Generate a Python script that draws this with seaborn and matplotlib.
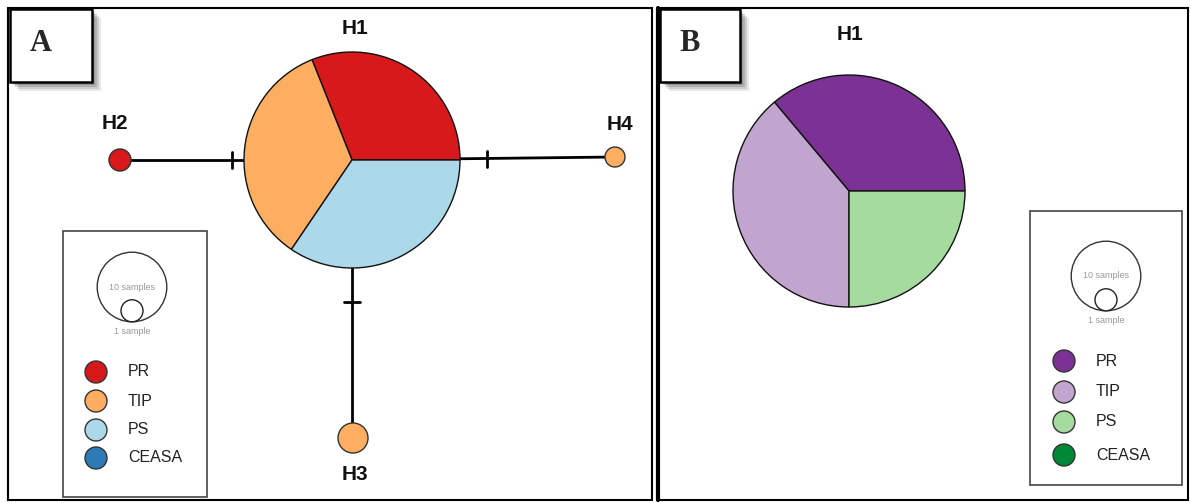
import numpy as np
import matplotlib
matplotlib.use("Agg")
import matplotlib.pyplot as plt
from matplotlib.patches import Wedge, Circle, Rectangle
import seaborn as sns

# populations and colours
populations = ["PR", "TIP", "PS", "CEASA"]
colors_a = ["#D7191C", "#FDAE61", "#ABD9E9", "#2C7BB6"]
colors_b = ["#7B3294", "#C2A5CF", "#A6DBA0", "#008837"]

# H1 composition (samples per population)
h1_counts_a = [9, 10, 10]
h1_counts_b = [13, 14, 9]

# minor haplotypes of panel A and their population
minor_names = ["H2", "H3", "H4"]
minor_pops = ["PR", "TIP", "TIP"]

sns.set_theme(style="white")
plt.rcParams["font.family"] = ["Liberation Sans", "DejaVu Sans"]

W, H = 1191, 503
fig = plt.figure(figsize=(W / 100, H / 100), dpi=100)
ax = fig.add_axes([0, 0, 1, 1])
ax.set_xlim(0, W)
ax.set_ylim(0, H)
ax.set_aspect("equal")
ax.axis("off")


def pie(cx, cy, r, counts, cols):
    fr = np.cumsum([0] + list(counts)) / sum(counts) * 360
    for i in range(len(counts)):
        ax.add_patch(Wedge((cx, cy), r, fr[i], fr[i + 1], facecolor=cols[i],
                           edgecolor="#111111", lw=1.0, zorder=4))


def node(cx, cy, r, col):
    ax.add_patch(Circle((cx, cy), r, facecolor=col, edgecolor="#333333",
                        lw=1.0, zorder=4))


def label_box(x0, y0, x1, y1, letter):
    # soft drop shadow, bottom-right
    for k, a in zip([9, 7, 5, 3], [0.12, 0.16, 0.2, 0.25]):
        ax.add_patch(Rectangle((x0 + k, y0 - k), x1 - x0, y1 - y0,
                               facecolor="#444444", edgecolor="none",
                               alpha=a, zorder=6))
    ax.add_patch(Rectangle((x0, y0), x1 - x0, y1 - y0, facecolor="white",
                           edgecolor="black", lw=1.8, zorder=7))
    ax.text((x0 + x1) / 2 - 10, (y0 + y1) / 2 + 2, letter, fontsize=22,
            fontweight="bold", family=["Liberation Serif", "DejaVu Serif"],
            ha="center", va="center", zorder=8)


def legend(x0, y0, x1, y1, cx, big_y, dot_x, dot_ys, cols):
    ax.add_patch(Rectangle((x0, y0), x1 - x0, y1 - y0, facecolor="white",
                           edgecolor="#444444", lw=1.2, zorder=3))
    r1 = 11
    r10 = r1 * np.sqrt(10)
    ax.add_patch(Circle((cx, big_y), r10, facecolor="none",
                        edgecolor="#333333", lw=1.0, zorder=4))
    ax.add_patch(Circle((cx, big_y - r10 + r1), r1, facecolor="white",
                        edgecolor="#222222", lw=1.0, zorder=4))
    ax.text(cx, big_y, "10 samples", fontsize=6.5, color="#999999",
            ha="center", va="center", zorder=5)
    ax.text(cx, big_y - r10 - 10, "1 sample", fontsize=6.5, color="#999999",
            ha="center", va="center", zorder=5)
    for y, c, p in zip(dot_ys, cols, populations):
        node(dot_x, y, 11, c)
        ax.text(dot_x + 32, y, p, fontsize=11.5, color="#222222",
                ha="left", va="center", zorder=5)


hlab = dict(fontsize=15, fontweight="bold", color="#111111",
            family=["Liberation Sans Narrow", "Liberation Sans", "DejaVu Sans"],
            ha="center", va="center", zorder=5)
col_a = dict(zip(populations, colors_a))

# ---- panel A ----
ax.add_patch(Rectangle((8, 3), 644, 492, facecolor="none",
                       edgecolor="black", lw=1.5, zorder=2))
h1x, h1y, h1r = 352, 343, 108
minor_xy = {"H2": (120, 343, 11), "H3": (353, 65, 15), "H4": (615, 346, 10)}

# edges with one mutation tick each
ax.plot([120, h1x], [343, 343], color="black", lw=2, zorder=3)
ax.plot([232, 232], [335, 351], color="black", lw=2, zorder=3)
ax.plot([h1x, 615], [343, 346], color="black", lw=2, zorder=3)
ax.plot([487, 487], [336, 352], color="black", lw=2, zorder=3)
ax.plot([h1x, h1x], [h1y, 65], color="black", lw=2, zorder=3)
ax.plot([344, 360], [201, 201], color="black", lw=2, zorder=3)

pie(h1x, h1y, h1r, h1_counts_a, colors_a)
for n, p in zip(minor_names, minor_pops):
    x, y, r = minor_xy[n]
    node(x, y, r, col_a[p])

ax.text(355, 475, "H1", **hlab)
ax.text(115, 380, "H2", **hlab)
ax.text(355, 28, "H3", **hlab)
ax.text(620, 379, "H4", **hlab)

legend(63, 6, 207, 272, 132, 216, 96, [131, 102, 73, 45], colors_a)
label_box(10, 421, 92, 494, "A")

# ---- panel B ----
ax.add_patch(Rectangle((658, 3), 530, 492, facecolor="none",
                       edgecolor="black", lw=1.5, zorder=2))
ax.plot([658, 658], [3, 495], color="black", lw=3, zorder=2)
pie(849, 312, 116, h1_counts_b, colors_b)
ax.text(850, 469, "H1", **hlab)
legend(1030, 18, 1182, 292, 1106, 227, 1064, [142, 111, 81, 48], colors_b)
label_box(660, 421, 740, 494, "B")

fig.savefig("out.png", dpi=100)
